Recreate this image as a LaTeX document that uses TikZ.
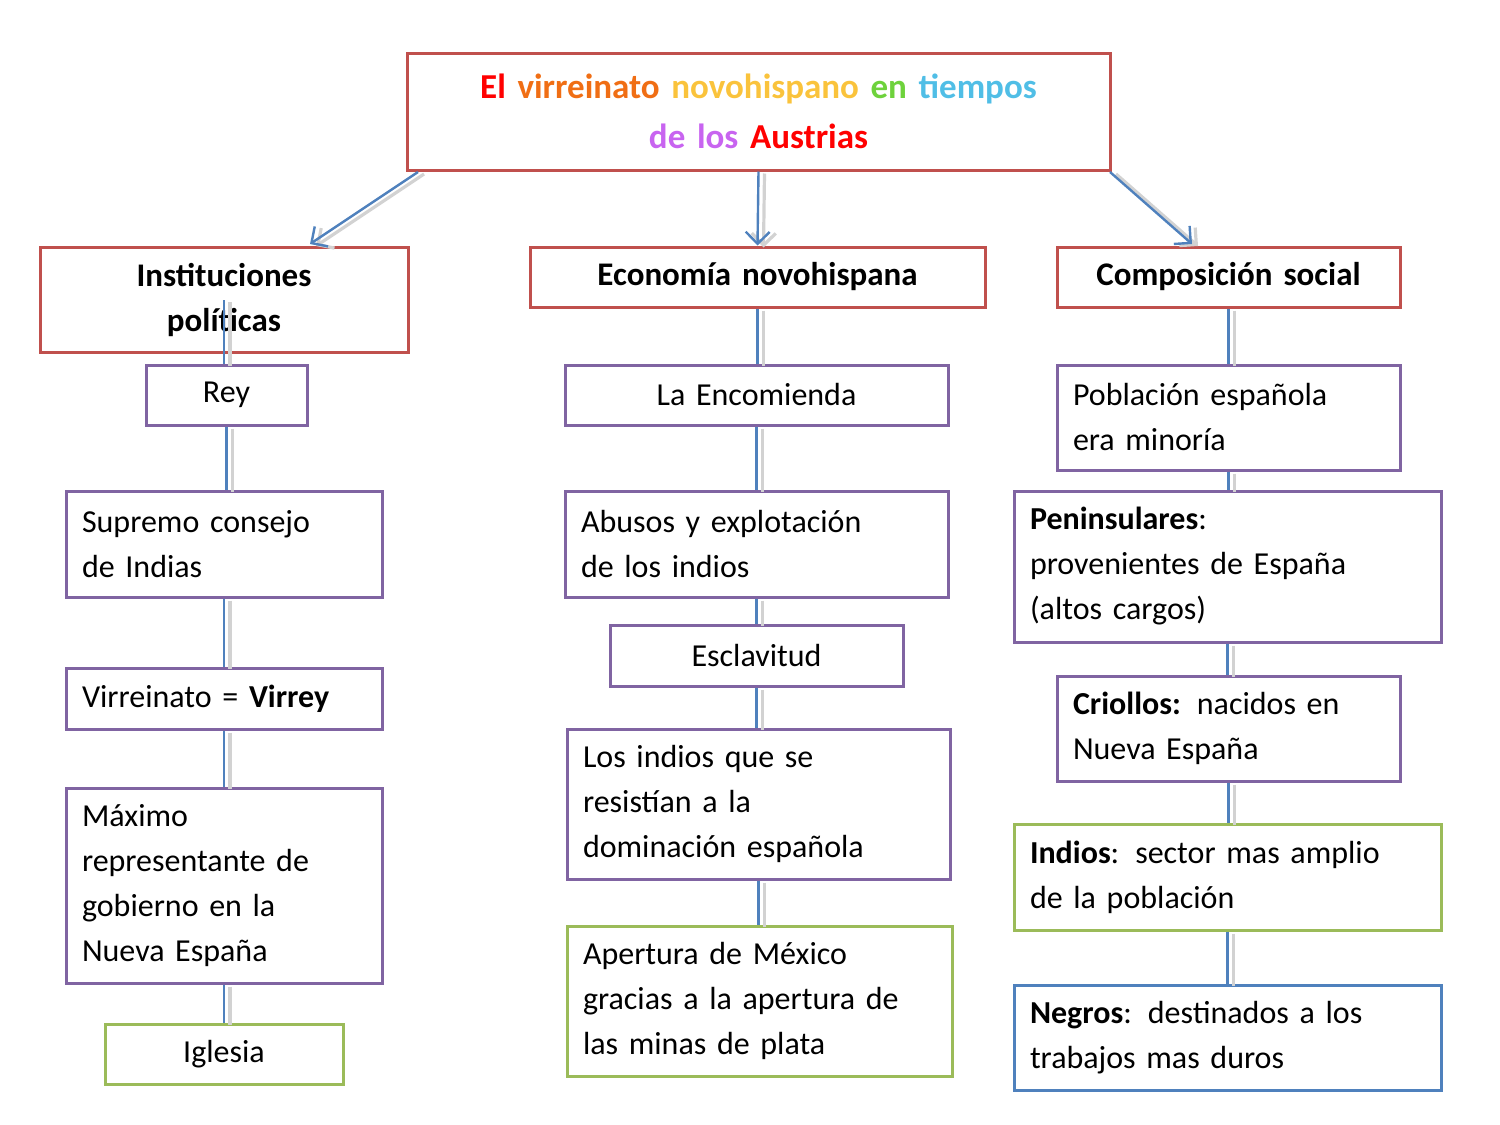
\documentclass[tikz,border=0pt]{standalone}
\usepackage{fontspec}
\setmainfont{Carlito}
\usetikzlibrary{arrows.meta}
\definecolor{bred}{RGB}{192,80,77}
\definecolor{bpurple}{RGB}{128,100,162}
\definecolor{bgreen}{RGB}{155,187,89}
\definecolor{bblue}{RGB}{79,129,189}
\definecolor{tor}{RGB}{240,110,20}
\definecolor{tyel}{RGB}{250,195,60}
\definecolor{tgre}{RGB}{110,210,60}
\definecolor{tblu}{RGB}{80,190,230}
\definecolor{tvio}{RGB}{200,100,240}
\tikzset{
  bx/.style n args={3}{draw=#1, line width=1.5pt, minimum width=#2, minimum height=#3,
    text width=#2-16pt, inner xsep=8pt, align=left, font=\fontsize{16}{22.5}\selectfont},
  cbx/.style n args={3}{bx={#1}{#2}{#3}, align=center},
  link/.style={draw=bblue, line width=1.2pt,
    preaction={draw=gray!35, line width=1.6pt, transform canvas={shift={(3pt,-1pt)}}}},
}
\begin{document}
\begin{tikzpicture}[x=0.5pt,y=-0.5pt]
\useasboundingbox (0,0) rectangle (1500,1125);
% title and heads
\node[cbx={bred}{351.5pt}{58.5pt}, font=\fontsize{17.5}{25}\selectfont\bfseries] (title) at (758.5,111.5)
  {\textcolor{red}{El} \textcolor{tor}{virreinato} \textcolor{tyel}{novohispano} \textcolor{tgre}{en} \textcolor{tblu}{tiempos}\\
   \textcolor{tvio}{de los} \textcolor{red}{Austrias}};
\node[cbx={bred}{184pt}{52.5pt}, font=\fontsize{16.5}{22.5}\selectfont\bfseries] (inst) at (224,299.5) {Instituciones\\políticas};
\node[cbx={bred}{227.5pt}{30pt}, font=\fontsize{16.5}{22.5}\selectfont\bfseries] (econ) at (757.5,277) {Economía novohispana};
\node[cbx={bred}{171.5pt}{30pt}, font=\fontsize{16.5}{22.5}\selectfont\bfseries] (comp) at (1228.5,277) {Composición social};
% left column
\node[cbx={bpurple}{80.5pt}{30pt}] (rey) at (226.5,395) {Rey};
\node[bx={bpurple}{158pt}{53pt}] (supremo) at (224,544) {Supremo consejo\\de Indias};
\node[bx={bpurple}{158pt}{30.5pt}] (virr) at (224,698.5) {Virreinato = \textbf{Virrey}};
\node[bx={bpurple}{158pt}{97.5pt}] (maximo) at (224,885.5) {Máximo\\representante de\\gobierno en la\\Nueva España};
\node[cbx={bgreen}{119pt}{30pt}] (iglesia) at (224,1054) {Iglesia};
% middle column
\node[cbx={bpurple}{191.5pt}{30pt}] (enco) at (756.5,395) {La Encomienda};
\node[bx={bpurple}{191.5pt}{53pt}] (abusos) at (756.5,544) {Abusos y explotación\\de los indios};
\node[cbx={bpurple}{146.5pt}{30.5pt}] (escl) at (756.5,655.5) {Esclavitud};
\node[bx={bpurple}{191.5pt}{75pt}] (resist) at (758.5,804) {Los indios que se\\resistían a la\\dominación española};
\node[bx={bgreen}{192.5pt}{75pt}] (apert) at (759.5,1001) {Apertura de México\\gracias a la apertura de\\las minas de plata};
% right column
\node[bx={bpurple}{171.5pt}{52.5pt}] (pobl) at (1228.5,417.5) {Población española\\era minoría};
\node[bx={bpurple}{213.5pt}{75.5pt}] (penin) at (1227.5,566.5) {\textbf{Peninsulares}:\\provenientes de España\\(altos cargos)};
\node[bx={bpurple}{171.5pt}{52.5pt}] (criol) at (1228.5,728.5) {\textbf{Criollos:} nacidos en\\Nueva España};
\node[bx={bgreen}{213.5pt}{53pt}] (indios) at (1227.5,877) {\textbf{Indios}: sector mas amplio\\de la población};
\node[bx={bblue}{213.5pt}{52.5pt}] (negros) at (1227.5,1037.5) {\textbf{Negros}: destinados a los\\trabajos mas duros};
% arrows from title
\draw[link, -{Straight Barb[length=6pt]}] (418,172) -- (310,244);
\draw[link, -{Straight Barb[length=6pt]}] (title.south) -- (econ.north);
\draw[link, -{Straight Barb[length=6pt]}] (1110,172) -- (1192,244);
% column links
\foreach \a/\b in {rey/supremo, supremo/virr, virr/maximo, maximo/iglesia,
  econ/enco, enco/abusos, abusos/escl, escl/resist, resist/apert,
  comp/pobl, pobl/penin, penin/criol, criol/indios, indios/negros}
  \draw[link] (\a.south) -- (\a.south |- \b.north);
\draw[link] (224,300) -- (rey.north -| 224,0);
\end{tikzpicture}
\end{document}
